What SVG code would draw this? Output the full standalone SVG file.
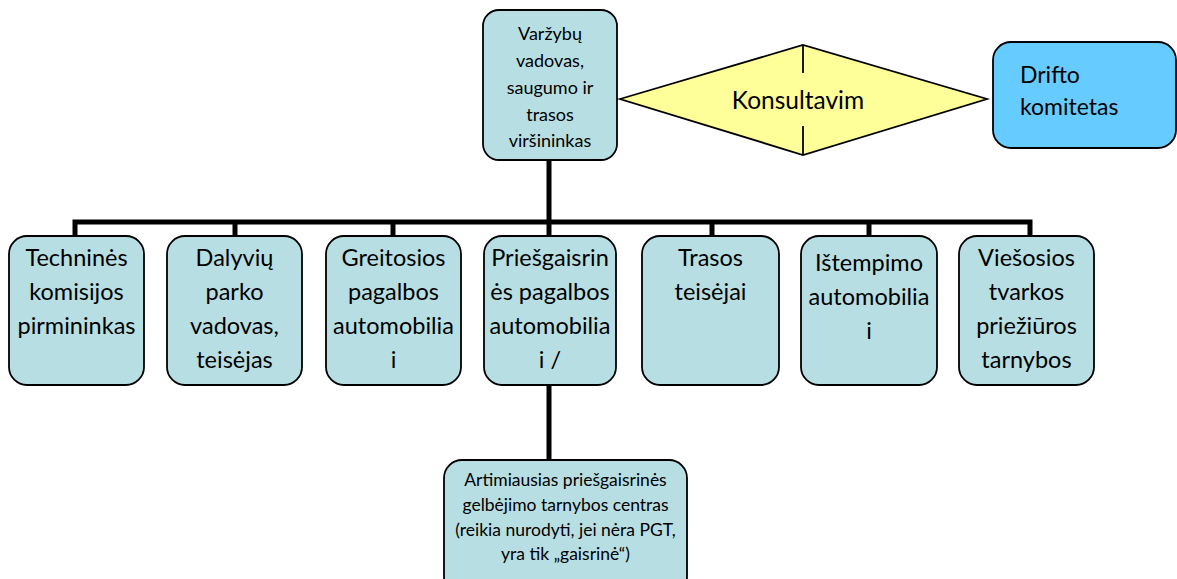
<svg xmlns="http://www.w3.org/2000/svg" width="1177" height="579" viewBox="0 0 1177 579">
<style>
.box{fill:#b7dfe3;stroke:#000;stroke-width:1.8}
.drift{fill:#66ccff;stroke:#000;stroke-width:1.8}
.dia{fill:#ffff99;stroke:#000;stroke-width:1.8}
.conn{stroke:#000;stroke-width:5;fill:none}
.thin{stroke:#000;stroke-width:1.8}
text{font-family:Lato,"Liberation Sans",sans-serif;fill:#000}
.t24{font-size:23.5px;text-anchor:middle}
.t18{font-size:18px;text-anchor:middle}
.t17{font-size:17.5px;text-anchor:middle}
</style>
<rect width="1177" height="579" fill="#fff"/>
<g id="connectors">
<line class="conn" x1="549" y1="160" x2="549" y2="222"/>
<polyline class="conn" points="75,236 75,222 1030,222 1030,236"/>
<line class="conn" x1="235" y1="222" x2="235" y2="236"/>
<line class="conn" x1="393" y1="222" x2="393" y2="236"/>
<line class="conn" x1="549" y1="222" x2="549" y2="236"/>
<line class="conn" x1="712" y1="222" x2="712" y2="236"/>
<line class="conn" x1="869" y1="222" x2="869" y2="236"/>
<line class="conn" x1="549" y1="385" x2="549" y2="460"/>
</g>
<g id="n-top">
<rect class="box" x="483" y="10" width="134" height="150" rx="16"/>
<text class="t18" x="550" y="40">Varžybų</text>
<text class="t18" x="550" y="67">vadovas,</text>
<text class="t18" x="550" y="94">saugumo ir</text>
<text class="t18" x="550" y="121">trasos</text>
<text class="t18" x="550" y="147">viršininkas</text>
</g>
<g id="n-konsult">
<polygon class="dia" points="620,99 803,45 987,99 803,155"/>
<line class="thin" x1="803" y1="45" x2="803" y2="73"/>
<line class="thin" x1="803" y1="126" x2="803" y2="155"/>
<text class="t24" x="798" y="109" style="font-size:24.5px">Konsultavim</text>
</g>
<g id="n-drift">
<rect class="drift" x="993" y="42" width="183" height="106" rx="18"/>
<text x="1020" y="83" style="font-size:23px">Drifto</text>
<text x="1020" y="115" style="font-size:23px">komitetas</text>
</g>
<g id="n-tech">
<rect class="box" x="9" y="236" width="135" height="149" rx="18"/>
<text class="t24" x="76.5" y="266">Techninės</text>
<text class="t24" x="76.5" y="300">komisijos</text>
<text class="t24" x="76.5" y="334">pirmininkas</text>
</g>
<g id="n-dal">
<rect class="box" x="167" y="236" width="135" height="149" rx="18"/>
<text class="t24" x="234.5" y="266">Dalyvių</text>
<text class="t24" x="234.5" y="300">parko</text>
<text class="t24" x="234.5" y="334">vadovas,</text>
<text class="t24" x="234.5" y="368">teisėjas</text>
</g>
<g id="n-greit">
<rect class="box" x="326" y="236" width="135" height="149" rx="18"/>
<text class="t24" x="393.5" y="266">Greitosios</text>
<text class="t24" x="393.5" y="300">pagalbos</text>
<text class="t24" x="393.5" y="334">automobilia</text>
<text class="t24" x="393.5" y="368">i</text>
</g>
<g id="n-pries">
<rect class="box" x="484" y="236" width="132" height="149" rx="18"/>
<text class="t24" x="550" y="266">Priešgaisrin</text>
<text class="t24" x="550" y="300">ės pagalbos</text>
<text class="t24" x="550" y="334">automobilia</text>
<text class="t24" x="550" y="368">i /</text>
</g>
<g id="n-trasos">
<rect class="box" x="642" y="236" width="137" height="149" rx="18"/>
<text class="t24" x="710.5" y="266">Trasos</text>
<text class="t24" x="710.5" y="300">teisėjai</text>
</g>
<g id="n-istemp">
<rect class="box" x="801" y="236" width="136" height="149" rx="18"/>
<text class="t24" x="869" y="271">Ištempimo</text>
<text class="t24" x="869" y="305">automobilia</text>
<text class="t24" x="869" y="339">i</text>
</g>
<g id="n-vies">
<rect class="box" x="959" y="236" width="135" height="149" rx="18"/>
<text class="t24" x="1026.5" y="266">Viešosios</text>
<text class="t24" x="1026.5" y="300">tvarkos</text>
<text class="t24" x="1026.5" y="334">priežiūros</text>
<text class="t24" x="1026.5" y="368">tarnybos</text>
</g>
<g id="n-artim">
<rect class="box" x="444" y="460" width="243" height="135" rx="18"/>
<text class="t17" x="565.5" y="486">Artimiausias priešgaisrinės</text>
<text class="t17" x="565.5" y="511">gelbėjimo tarnybos centras</text>
<text class="t17" x="565.5" y="536">(reikia nurodyti, jei nėra PGT,</text>
<text class="t17" x="565.5" y="560">yra tik „gaisrinė“)</text>
</g>
</svg>
